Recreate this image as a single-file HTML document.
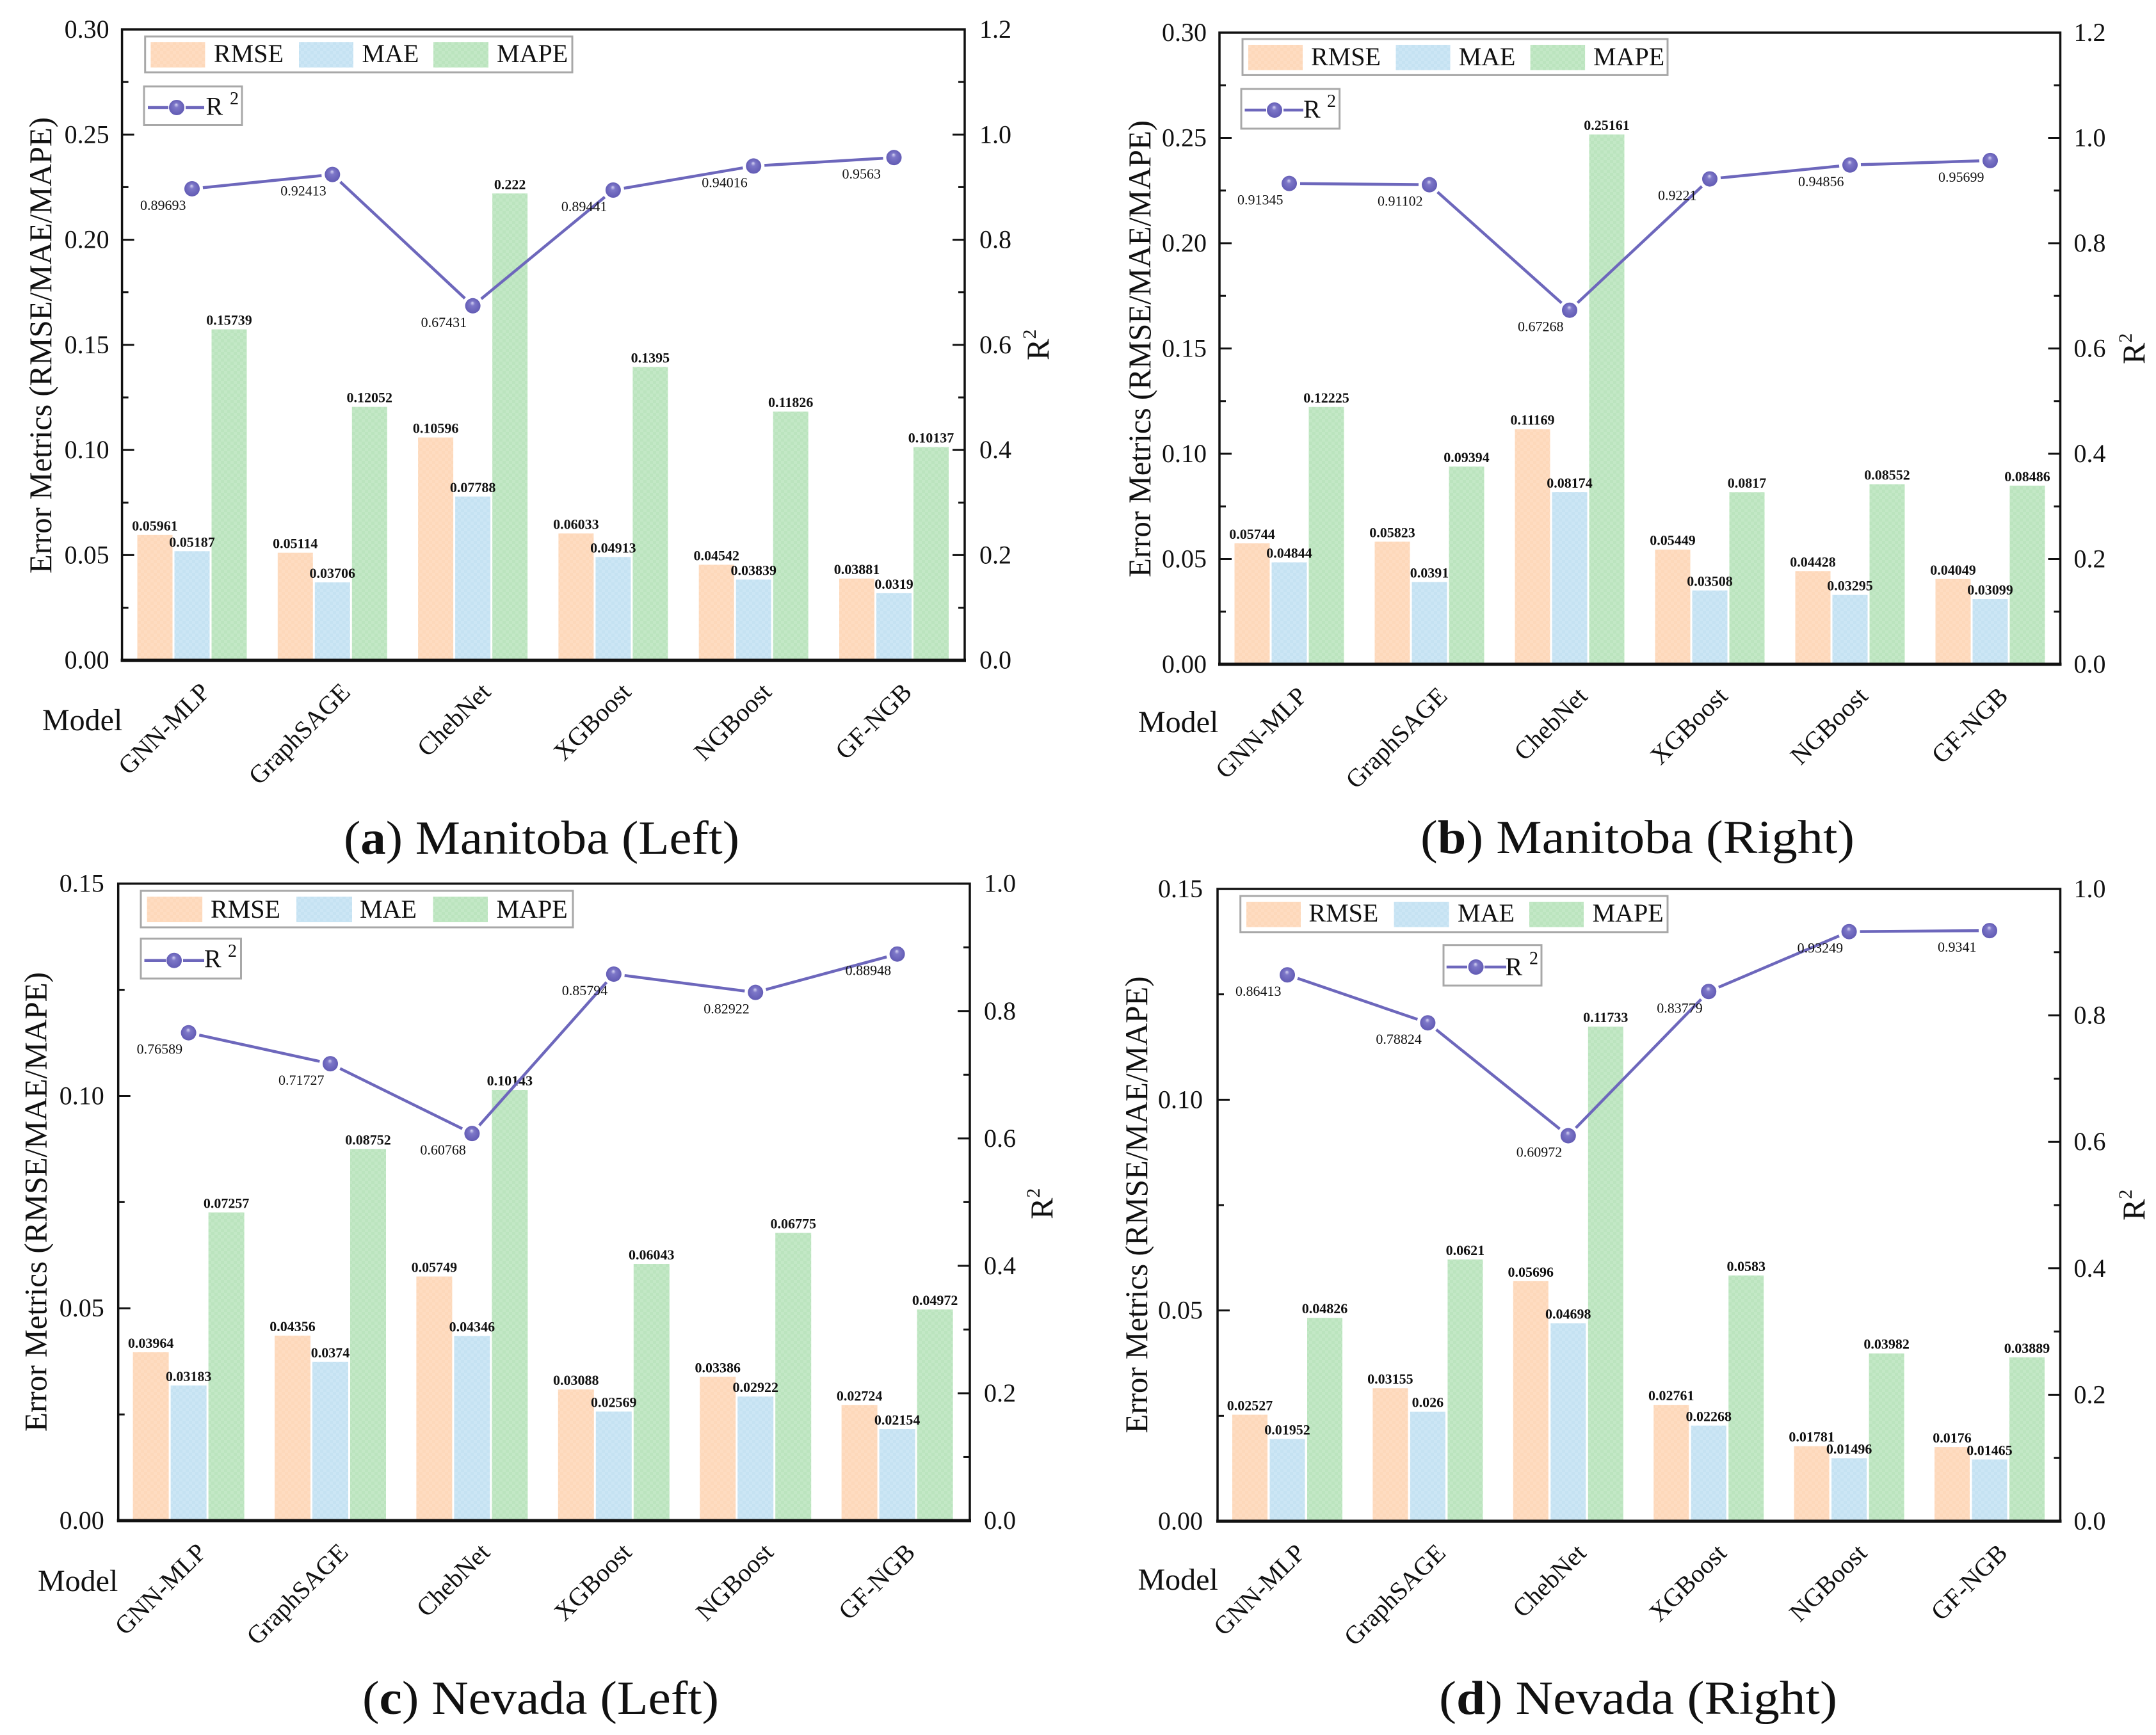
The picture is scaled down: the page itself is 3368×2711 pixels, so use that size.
<!DOCTYPE html>
<html lang="en">
<head>
<meta charset="utf-8">
<title>Error metrics and R2 by model</title>
<style>
html,body{margin:0;padding:0;background:#fff;}
svg{display:block;}
text{font-family:"Liberation Serif",serif;fill:#111;}
.lg{font-size:40px;}
.r2l{font-size:40px;}
.r2s{font-size:28px;}
.ttl{font-size:50px;}
.mdl{font-size:48px;}
.cap{font-size:74px;}
.box{fill:#fff;stroke:#a8a8a8;stroke-width:3;}
.ln{stroke:#6d67bc;stroke-width:4.5;fill:none;}
.axis{stroke:#111;stroke-width:3.5;fill:none;}
</style>
</head>
<body>
<svg id="chart" xmlns="http://www.w3.org/2000/svg" width="3368" height="2711" viewBox="0 0 3368 2711">
<defs>
<pattern id="pRMSE" width="10" height="10" patternUnits="userSpaceOnUse"><rect width="10" height="10" fill="#fdd8ba"/><rect width="5" height="5" fill="#fedcc1"/><rect x="5" y="5" width="5" height="5" fill="#fedcc1"/></pattern>
<pattern id="pMAE" width="10" height="10" patternUnits="userSpaceOnUse"><rect width="10" height="10" fill="#c5e2f2"/><rect width="5" height="5" fill="#cce6f5"/><rect x="5" y="5" width="5" height="5" fill="#cce6f5"/></pattern>
<pattern id="pMAPE" width="10" height="10" patternUnits="userSpaceOnUse"><rect width="10" height="10" fill="#bbe4be"/><rect width="5" height="5" fill="#c3e8c6"/><rect x="5" y="5" width="5" height="5" fill="#c3e8c6"/></pattern>
<radialGradient id="ball" cx="50%" cy="50%" r="55%" fx="47%" fy="30%"><stop offset="0" stop-color="#d8d6f4"/><stop offset="0.28" stop-color="#7d77c8"/><stop offset="1" stop-color="#5f58b2"/></radialGradient>
</defs>

<!-- panel a static -->
<g>
<rect class="box" x="226.7" y="57" width="667.3" height="56"/>
<rect x="235.4" y="66" width="85" height="39.5" fill="url(#pRMSE)"/>
<text class="lg" x="334" y="97">RMSE</text>
<rect x="467" y="66" width="85" height="39.5" fill="url(#pMAE)"/>
<text class="lg" x="565.5" y="97">MAE</text>
<rect x="677" y="66" width="86" height="39.5" fill="url(#pMAPE)"/>
<text class="lg" x="776" y="97">MAPE</text>
<rect class="box" x="225" y="135" width="153" height="60.5"/>
<path class="ln" d="M231 168H263M290 168H319"/>
<circle cx="276" cy="168" r="12" fill="url(#ball)"/>
<text class="r2l" x="321.5" y="179.5">R</text>
<text class="r2s" x="359" y="163">2</text>
<text class="ttl" transform="translate(80,539.6) rotate(-90)" text-anchor="middle" textLength="713" lengthAdjust="spacingAndGlyphs">Error Metrics (RMSE/MAE/MAPE)</text>
<text class="ttl" transform="translate(1638,563) rotate(-90)">R<tspan font-size="30" dy="-20">2</tspan></text>
<text class="mdl" x="66" y="1141">Model</text>
<text class="cap" x="537" y="1334" textLength="618" lengthAdjust="spacingAndGlyphs">(<tspan font-weight="700">a</tspan>) Manitoba (Left)</text>
</g>

<!-- panel b static -->
<g>
<rect class="box" x="1941" y="61" width="664" height="56.4"/>
<rect x="1950" y="70" width="85" height="39.5" fill="url(#pRMSE)"/>
<text class="lg" x="2048" y="101.8">RMSE</text>
<rect x="2180.5" y="70" width="85" height="39.5" fill="url(#pMAE)"/>
<text class="lg" x="2278.6" y="101.8">MAE</text>
<rect x="2390.6" y="70" width="85.5" height="39.5" fill="url(#pMAPE)"/>
<text class="lg" x="2489" y="101.8">MAPE</text>
<rect class="box" x="1939" y="139" width="153.6" height="62"/>
<path class="ln" d="M1944.5 172H1978M2005 172H2036"/>
<circle cx="1991" cy="172" r="12" fill="url(#ball)"/>
<text class="r2l" x="2036" y="184">R</text>
<text class="r2s" x="2073" y="167">2</text>
<text class="ttl" transform="translate(1797,545) rotate(-90)" text-anchor="middle" textLength="714" lengthAdjust="spacingAndGlyphs">Error Metrics (RMSE/MAE/MAPE)</text>
<text class="ttl" transform="translate(3350,569) rotate(-90)">R<tspan font-size="30" dy="-20">2</tspan></text>
<text class="mdl" x="1778" y="1144">Model</text>
<text class="cap" x="2219" y="1333" textLength="678" lengthAdjust="spacingAndGlyphs">(<tspan font-weight="700">b</tspan>) Manitoba (Right)</text>
</g>

<!-- panel c static -->
<g>
<rect class="box" x="220" y="1392" width="675" height="57"/>
<rect x="229.6" y="1401" width="86.5" height="40" fill="url(#pRMSE)"/>
<text class="lg" x="329" y="1434">RMSE</text>
<rect x="463" y="1401" width="87" height="40" fill="url(#pMAE)"/>
<text class="lg" x="562" y="1434">MAE</text>
<rect x="676.5" y="1401" width="85.5" height="40" fill="url(#pMAPE)"/>
<text class="lg" x="775.5" y="1434">MAPE</text>
<rect class="box" x="220" y="1466.7" width="156.5" height="62.3"/>
<path class="ln" d="M225.5 1500.7H259M286 1500.7H319"/>
<circle cx="272" cy="1500.7" r="12" fill="url(#ball)"/>
<text class="r2l" x="319" y="1511.7">R</text>
<text class="r2s" x="356" y="1495">2</text>
<text class="ttl" transform="translate(72.5,1878) rotate(-90)" text-anchor="middle" textLength="718" lengthAdjust="spacingAndGlyphs">Error Metrics (RMSE/MAE/MAPE)</text>
<text class="ttl" transform="translate(1644,1905) rotate(-90)">R<tspan font-size="30" dy="-20">2</tspan></text>
<text class="mdl" x="59" y="2486">Model</text>
<text class="cap" x="566" y="2678" textLength="557" lengthAdjust="spacingAndGlyphs">(<tspan font-weight="700">c</tspan>) Nevada (Left)</text>
</g>

<!-- panel d static -->
<g>
<rect class="box" x="1937.7" y="1400" width="667.3" height="56.7"/>
<rect x="1947" y="1409" width="85" height="39.7" fill="url(#pRMSE)"/>
<text class="lg" x="2044.4" y="1440">RMSE</text>
<rect x="2177.6" y="1409" width="86" height="39.7" fill="url(#pMAE)"/>
<text class="lg" x="2277" y="1440">MAE</text>
<rect x="2389" y="1409" width="85" height="39.7" fill="url(#pMAPE)"/>
<text class="lg" x="2487.6" y="1440">MAPE</text>
<rect class="box" x="2255" y="1476.7" width="153" height="63.3"/>
<path class="ln" d="M2259.7 1511H2292M2319 1511H2353"/>
<circle cx="2305.6" cy="1511" r="12" fill="url(#ball)"/>
<text class="r2l" x="2351.5" y="1524">R</text>
<text class="r2s" x="2389" y="1506.7">2</text>
<text class="ttl" transform="translate(1792,1882.5) rotate(-90)" text-anchor="middle" textLength="714" lengthAdjust="spacingAndGlyphs">Error Metrics (RMSE/MAE/MAPE)</text>
<text class="ttl" transform="translate(3350,1907) rotate(-90)">R<tspan font-size="30" dy="-20">2</tspan></text>
<text class="mdl" x="1777.5" y="2484">Model</text>
<text class="cap" x="2248" y="2678" textLength="622" lengthAdjust="spacingAndGlyphs">(<tspan font-weight="700">d</tspan>) Nevada (Right)</text>
</g>
</svg>

<script>
const categories = ['GNN-MLP', 'GraphSAGE', 'ChebNet', 'XGBoost', 'NGBoost', 'GF-NGB'];

const rmseA = [0.05961, 0.05114, 0.10596, 0.06033, 0.04542, 0.03881];
const maeA = [0.05187, 0.03706, 0.07788, 0.04913, 0.03839, 0.0319];
const mapeA = [0.15739, 0.12052, 0.222, 0.1395, 0.11826, 0.10137];
const r2A = [0.89693, 0.92413, 0.67431, 0.89441, 0.94016, 0.9563];

const rmseB = [0.05744, 0.05823, 0.11169, 0.05449, 0.04428, 0.04049];
const maeB = [0.04844, 0.0391, 0.08174, 0.03508, 0.03295, 0.03099];
const mapeB = [0.12225, 0.09394, 0.25161, 0.0817, 0.08552, 0.08486];
const r2B = [0.91345, 0.91102, 0.67268, 0.9221, 0.94856, 0.95699];

const rmseC = [0.03964, 0.04356, 0.05749, 0.03088, 0.03386, 0.02724];
const maeC = [0.03183, 0.0374, 0.04346, 0.02569, 0.02922, 0.02154];
const mapeC = [0.07257, 0.08752, 0.10143, 0.06043, 0.06775, 0.04972];
const r2C = [0.76589, 0.71727, 0.60768, 0.85794, 0.82922, 0.88948];

const rmseD = [0.02527, 0.03155, 0.05696, 0.02761, 0.01781, 0.0176];
const maeD = [0.01952, 0.026, 0.04698, 0.02268, 0.01496, 0.01465];
const mapeD = [0.04826, 0.0621, 0.11733, 0.0583, 0.03982, 0.03889];
const r2D = [0.86413, 0.78824, 0.60972, 0.83779, 0.93249, 0.9341];

const leftTicksWide = ['0.00', '0.05', '0.10', '0.15', '0.20', '0.25', '0.30'];
const rightTicksWide = ['0.0', '0.2', '0.4', '0.6', '0.8', '1.0', '1.2'];
const leftTicksNarrow = ['0.00', '0.05', '0.10', '0.15'];
const rightTicksNarrow = ['0.0', '0.2', '0.4', '0.6', '0.8', '1.0'];

const layoutA = {id:'a', left:190.6, right:1507, top:46, bottom:1031.7, x0:300, dx:219.3, gap:58, w:55, lblL:20, lblR:23};
const layoutB = {id:'b', left:1905, right:3218.5, top:51, bottom:1038, x0:2014, dx:219, gap:58, w:55, lblL:20, lblR:21};
const layoutC = {id:'c', left:184.7, right:1515, top:1380.7, bottom:2376, x0:294.6, dx:221.4, gap:59, w:56, lblL:22, lblR:22};
const layoutD = {id:'d', left:1902, right:3218.5, top:1389, bottom:2377, x0:2011, dx:219.4, gap:58.5, w:55, lblL:23, lblR:21};

const svgNS = 'http://www.w3.org/2000/svg';
const root = document.getElementById('chart');

function mk(tag, props, parent, txt) {
  const n = document.createElementNS(svgNS, tag);
  for (const k in props) n.setAttribute(k, props[k]);
  if (txt !== undefined) n.textContent = txt;
  parent.appendChild(n);
  return n;
}

function drawPanel(p, rmse, mae, mape, r2, leftTicks, rightTicks) {
  const leftMax = parseFloat(leftTicks[leftTicks.length - 1]);
  const rightMax = parseFloat(rightTicks[rightTicks.length - 1]);
  const xPos = i => p.x0 + i * p.dx;
  const yLeft = v => p.bottom - (v / leftMax) * (p.bottom - p.top);
  const yRight = v => p.bottom - (v / rightMax) * (p.bottom - p.top);

  const g = mk('g', {}, root);
  
  

  const series = [
    {key:'rmse', vals:rmse, off:-p.gap, fill:'url(#pRMSE)'},
    {key:'mae', vals:mae, off:0, fill:'url(#pMAE)'},
    {key:'mape', vals:mape, off:p.gap, fill:'url(#pMAPE)'}
  ];

  series.forEach(s => {
    s.vals.forEach((v, i) => {
      const bar = mk('rect', {x:xPos(i) + s.off - p.w / 2, y:yLeft(v), width:p.w, height:p.bottom - yLeft(v), fill:s.fill}, g);
      
      
    });
  });

  series.forEach(s => {
    s.vals.forEach((v, i) => {
      const t = mk('text', {x:xPos(i) + s.off, y:yLeft(v) - 7, 'text-anchor':'middle', 'font-size':22, 'font-weight':700}, g, String(v));
      
      
    });
  });

  const gapLen = 17;
  r2.forEach((v, i) => {
    if (i === r2.length - 1) return;
    const x1 = xPos(i), y1 = yRight(v), x2 = xPos(i + 1), y2 = yRight(r2[i + 1]);
    const len = Math.hypot(x2 - x1, y2 - y1);
    const ux = (x2 - x1) / len, uy = (y2 - y1) / len;
    const seg = mk('line', {x1:x1 + ux * gapLen, y1:y1 + uy * gapLen, x2:x2 - ux * gapLen, y2:y2 - uy * gapLen, stroke:'#6d67bc', 'stroke-width':4.5}, g);
    
    
  });

  r2.forEach((v, i) => {
    const t = mk('text', {x:xPos(i) - 81, y:yRight(v) + 33, 'font-size':22}, g, String(v));
    
    
    const c = mk('circle', {cx:xPos(i), cy:yRight(v), r:12, fill:'url(#ball)'}, g);
    
    
  });

  const frame = mk('rect', {x:p.left, y:p.top, width:p.right - p.left, height:p.bottom - p.top, class:'axis'}, g);
  
  
  const base = mk('line', {x1:p.left - 2, x2:p.right + 2, y1:p.bottom, y2:p.bottom, stroke:'#111', 'stroke-width':5}, g);
  
  

  leftTicks.forEach((label, i) => {
    const v = parseFloat(label);
    const y = yLeft(v);
    const tick = mk('line', {x1:p.left, x2:p.left + 19, y1:y, y2:y, stroke:'#111', 'stroke-width':3}, g);
    
    
    const t = mk('text', {x:p.left - p.lblL, y:y + 13, 'text-anchor':'end', 'font-size':40}, g, label);
    
    
    if (i < leftTicks.length - 1) {
      const ym = yLeft((v + parseFloat(leftTicks[i + 1])) / 2);
      const minor = mk('line', {x1:p.left, x2:p.left + 10, y1:ym, y2:ym, stroke:'#111', 'stroke-width':3}, g);
      
      
    }
  });

  rightTicks.forEach((label, i) => {
    const v = parseFloat(label);
    const y = yRight(v);
    const tick = mk('line', {x1:p.right, x2:p.right - 19, y1:y, y2:y, stroke:'#111', 'stroke-width':3}, g);
    
    
    const t = mk('text', {x:p.right + p.lblR, y:y + 13, 'font-size':40}, g, label);
    
    
    if (i < rightTicks.length - 1) {
      const ym = yRight((v + parseFloat(rightTicks[i + 1])) / 2);
      const minor = mk('line', {x1:p.right, x2:p.right - 10, y1:ym, y2:ym, stroke:'#111', 'stroke-width':3}, g);
      
      
    }
  });

  categories.forEach((name, i) => {
    const ax = xPos(i) + 30, ay = p.bottom + 52;
    const t = mk('text', {transform:'translate(' + ax + ',' + ay + ') rotate(-45)', 'text-anchor':'end', 'font-size':40}, g, name);
    
    
  });
}

drawPanel(layoutA, rmseA, maeA, mapeA, r2A, leftTicksWide, rightTicksWide);
drawPanel(layoutB, rmseB, maeB, mapeB, r2B, leftTicksWide, rightTicksWide);
drawPanel(layoutC, rmseC, maeC, mapeC, r2C, leftTicksNarrow, rightTicksNarrow);
drawPanel(layoutD, rmseD, maeD, mapeD, r2D, leftTicksNarrow, rightTicksNarrow);
</script>
</body>
</html>
